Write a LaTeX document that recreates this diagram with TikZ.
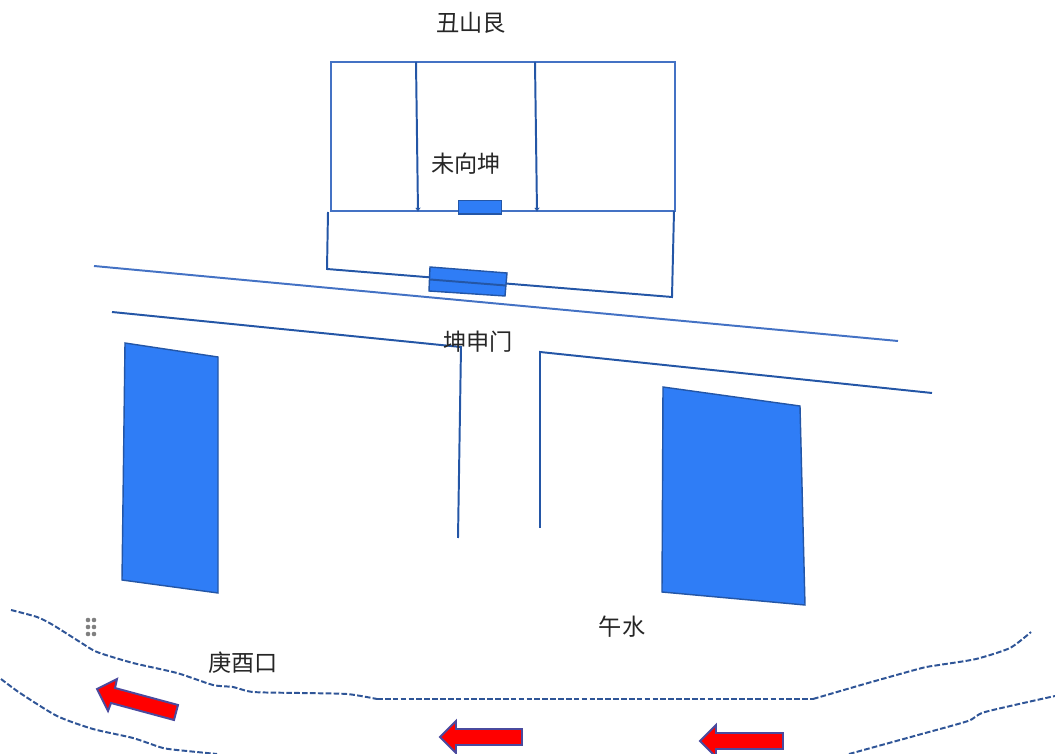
\documentclass[tikz,border=0pt]{standalone}
\usepackage{fontspec}
\usetikzlibrary{arrows.meta}
\setmainfont{Noto Sans CJK SC}
\definecolor{wallblue}{HTML}{4472C4}
\definecolor{darkblue}{HTML}{2456A6}
\definecolor{blockblue}{HTML}{2F7DF6}
\definecolor{riverblue}{HTML}{2F5597}
\definecolor{flowedge}{HTML}{4A4A9E}
\tikzset{
    wall/.style={wallblue,line width=1.4pt},
    darkwall/.style={darkblue,line width=1.4pt},
    block/.style={draw=darkblue,fill=blockblue,line width=1pt},
    river/.style={riverblue,line width=1.4pt,dash pattern=on 4pt off 1.6pt},
    flow/.style={draw=flowedge,fill=red,line width=1.4pt,line join=miter},
    tag/.style={font=\fontsize{16.5}{16.5}\selectfont,text=black!85},
}
\begin{document}
\begin{tikzpicture}[x=0.025cm,y=-0.025cm]
    \useasboundingbox (0,0) rectangle (1055,754);
    %draw house
    \draw[wall] (331,62) rectangle (675,211);
    \draw[darkwall,-{Latex[length=3pt,width=4pt]}] (416,62) -- (418,212);
    \draw[darkwall,-{Latex[length=3pt,width=4pt]}] (535,62) -- (537,212);
    \draw[darkwall] (328,212) -- (327,269) -- (672,297) -- (674,211);
    \draw[block] (458.5,200.5) rectangle (501.5,214);
    \draw[block] (430,267) -- (507,273) -- (505,296) -- (429,291) -- cycle;
    \draw[darkwall] (430,279.5) -- (506,285.5);
    %draw road
    \draw[wall] (94,266) -- (898,341);
    \draw[darkwall] (112,312) -- (461,347) -- (458,538);
    \draw[darkwall] (540,528) -- (540,352) -- (932,393);
    %draw buildings
    \draw[block] (125,343) -- (218,357) -- (218,593) -- (122,580) -- cycle;
    \draw[block] (663,387) -- (800,406) -- (805,605) -- (662,592) -- cycle;
    %draw river
    \draw[river] plot[smooth,tension=0.4] coordinates {(11,610) (37,617) (53,625) (80,642) (97,652) (133,663) (177,673) (213,685) (233,687) (253,692) (300,693) (347,694) (377,699)};
    \draw[river] (377,699) -- (813,699);
    \draw[river] plot[smooth,tension=0.4] coordinates {(813,699) (868,683) (922,668) (939,665) (976,659) (1010,648) (1031,632)};
    \draw[river] plot[smooth,tension=0.4] coordinates {(1,679) (20,693) (57,716) (93,729) (133,738) (163,748) (187,751) (217,754)};
    \draw[river] plot[smooth,tension=0.4] coordinates {(849,754) (918,735) (968,721) (985,712) (1055,696)};
    %draw flow arrows
    \draw[flow] (97,689) -- (117,679) -- (115,688) -- (178,705) -- (174,720) -- (111,703) -- (108,711) -- cycle;
    \draw[flow] (440,737) -- (456,721) -- (456,729) -- (522,729) -- (522,745) -- (456,745) -- (456,753) -- cycle;
    \draw[flow] (700,741) -- (716,725) -- (716,733) -- (783,733) -- (783,749) -- (716,749) -- (716,757) -- cycle;
    %draw handle dots
    \foreach \x in {88,94}
        {%
            \foreach \y in {620,627,634}
                {%
                    \fill[gray] (\x,\y) circle (2.3);
                }
        }
    %draw labels
    \node[tag] (north) at (471,23) {丑山艮};
    \node[tag] (facing) at (466,164) {未向坤};
    \node[tag] (gate) at (478,342) {坤申门};
    \node[tag] (mouth) at (243,663) {庚酉口};
    \node[tag] (water) at (622,627) {午水};
\end{tikzpicture}
\end{document}
